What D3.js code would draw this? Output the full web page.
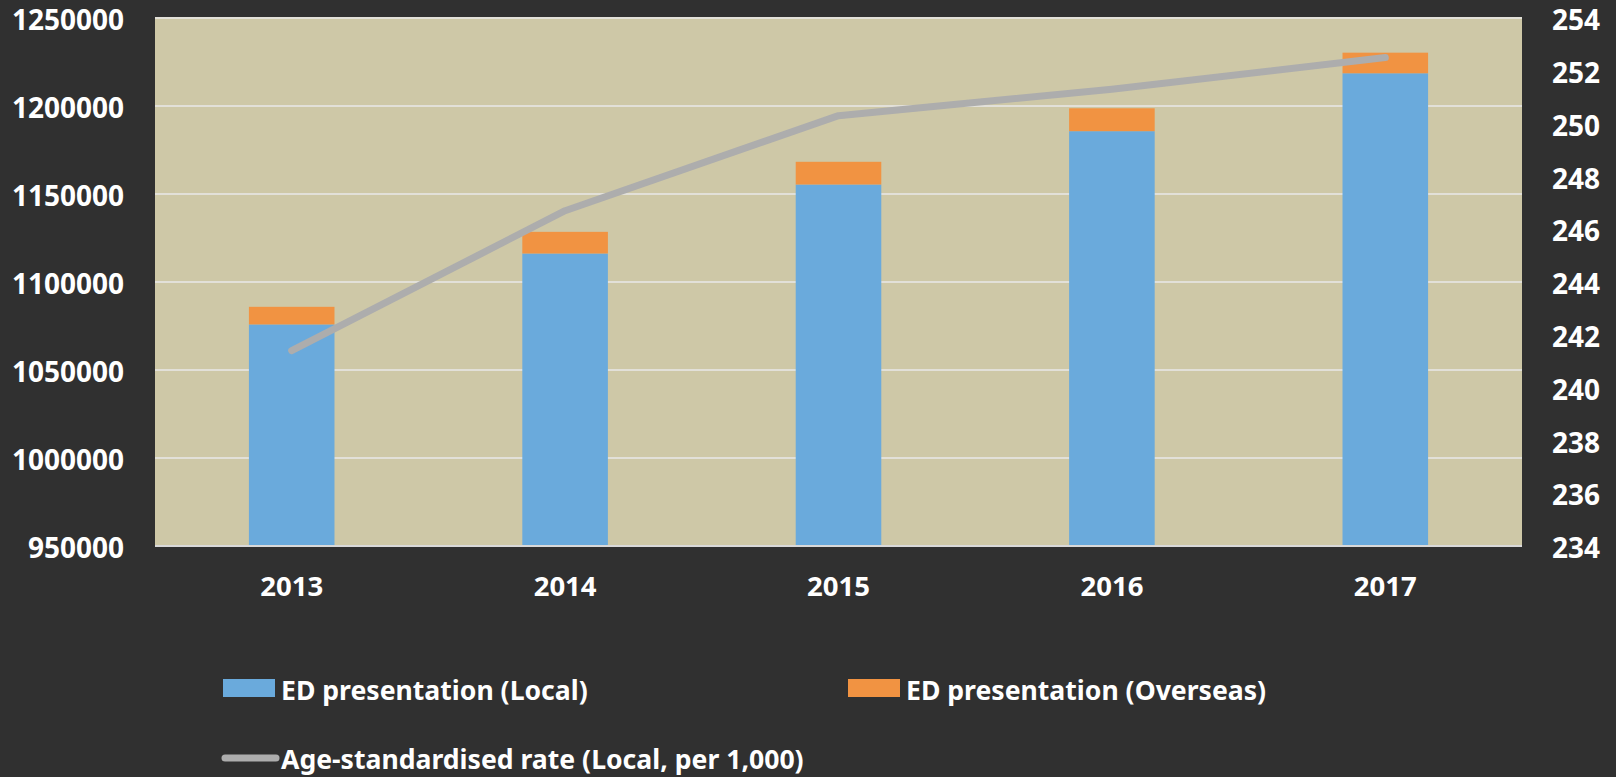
<!DOCTYPE html>
<html>
<head>
<meta charset="utf-8">
<script src="https://cdn.jsdelivr.net/npm/d3@7"></script>
<style>
  html, body { margin: 0; padding: 0; background: #303030; }
  svg { display: block; }
  text { font-family: "Noto Sans", sans-serif; font-weight: bold; fill: #ffffff; }
</style>
</head>
<body>
<div id="chart"></div>
<script>
// data
const years = ["2013", "2014", "2015", "2016", "2017"]
const localVisits = [1075900, 1116200, 1155400, 1185700, 1218600]
const overseasVisits = [10000, 12300, 12900, 13000, 11700]
const rateLocal = [241.4, 246.7, 250.3, 251.3, 252.5]
const leftTicks = [950000, 1000000, 1050000, 1100000, 1150000, 1200000, 1250000]
const rightTicks = [234, 236, 238, 240, 242, 244, 246, 248, 250, 252, 254]

function drawChart() {
    const data = years.map((y, i) => ({
        year: y,
        local: localVisits[i],
        overseas: overseasVisits[i],
        rate: rateLocal[i],
    }))

    const dimensions = {
        width: 1616,
        height: 777,
        margin: { top: 18, right: 94, bottom: 231, left: 155 },
    }
    dimensions.boundedWidth = dimensions.width - dimensions.margin.left - dimensions.margin.right
    dimensions.boundedHeight = dimensions.height - dimensions.margin.top - dimensions.margin.bottom

    const wrapper = d3.select("#chart")
        .append("svg")
        .attr("width", dimensions.width)
        .attr("height", dimensions.height)

    const bounds = wrapper.append("g")
        .attr("transform", `translate(${dimensions.margin.left},${dimensions.margin.top})`)

    // scales
    const xScale = d3.scaleBand()
        .domain(years)
        .range([0, dimensions.boundedWidth])
        .paddingInner(0.687)
        .paddingOuter(0.687 / 2)

    const yScale = d3.scaleLinear()
        .domain([950000, 1250000])
        .range([dimensions.boundedHeight, 0])

    const rateScale = d3.scaleLinear()
        .domain([234, 254])
        .range([dimensions.boundedHeight, 0])

    // plot background
    bounds.append("rect")
        .attr("width", dimensions.boundedWidth)
        .attr("height", dimensions.boundedHeight)
        .attr("fill", "#cec8a7")

    // gridlines
    bounds.append("g")
        .selectAll("line")
        .data(leftTicks.slice(1))
        .join("line")
        .attr("x1", 0)
        .attr("x2", dimensions.boundedWidth)
        .attr("y1", d => yScale(d))
        .attr("y2", d => yScale(d))
        .attr("stroke", "#e2e0d8")
        .attr("stroke-width", 2)

    // stacked bars
    const stack = d3.stack().keys(["local", "overseas"])
    const series = stack(data)
    const colors = { local: "#6aaadc", overseas: "#f19342" }

    bounds.append("g")
        .selectAll("g")
        .data(series)
        .join("g")
        .attr("fill", d => colors[d.key])
        .selectAll("rect")
        .data(d => d)
        .join("rect")
        .attr("x", d => xScale(d.data.year))
        .attr("width", xScale.bandwidth())
        .attr("y", d => yScale(d[1]))
        .attr("height", d => yScale(Math.max(d[0], 950000)) - yScale(d[1]))

    // x axis line
    bounds.append("line")
        .attr("x1", 0)
        .attr("x2", dimensions.boundedWidth)
        .attr("y1", dimensions.boundedHeight)
        .attr("y2", dimensions.boundedHeight)
        .attr("stroke", "#d9d9d9")
        .attr("stroke-width", 2)

    // rate line
    const lineGenerator = d3.line()
        .x(d => xScale(d.year) + xScale.bandwidth() / 2)
        .y(d => rateScale(d.rate))

    bounds.append("path")
        .datum(data)
        .attr("d", lineGenerator)
        .attr("fill", "none")
        .attr("stroke", "#adadad")
        .attr("stroke-width", 7)
        .attr("stroke-linecap", "round")
        .attr("stroke-linejoin", "round")

    // axes
    const yAxisGenerator = d3.axisLeft(yScale)
        .tickValues(leftTicks)
        .tickSize(0)
        .tickPadding(31)
        .tickFormat(d3.format("d"))

    const yAxis = bounds.append("g").call(yAxisGenerator)
    yAxis.select(".domain").remove()
    yAxis.selectAll("text")
        .attr("fill", "#ffffff")
        .style("font-size", "28px")
        .attr("dy", "0.42em")

    const rateAxisGenerator = d3.axisRight(rateScale)
        .tickValues(rightTicks)
        .tickSize(0)
        .tickPadding(30)

    const rateAxis = bounds.append("g")
        .attr("transform", `translate(${dimensions.boundedWidth},0)`)
        .call(rateAxisGenerator)
    rateAxis.select(".domain").remove()
    rateAxis.selectAll("text")
        .attr("fill", "#ffffff")
        .style("font-size", "28px")
        .attr("dy", "0.42em")

    const xAxisGenerator = d3.axisBottom(xScale)
        .tickSize(0)
        .tickPadding(30)

    const xAxis = bounds.append("g")
        .attr("transform", `translate(0,${dimensions.boundedHeight})`)
        .call(xAxisGenerator)
    xAxis.select(".domain").remove()
    xAxis.selectAll("text")
        .attr("fill", "#ffffff")
        .style("font-size", "27.5px")

    // legend
    const legend = wrapper.append("g")

    const legendItems = [
        { label: "ED presentation (Local)", type: "rect", color: colors.local, x: 223, y: 679 },
        { label: "ED presentation (Overseas)", type: "rect", color: colors.overseas, x: 848, y: 679 },
        { label: "Age-standardised rate (Local, per 1,000)", type: "line", color: "#adadad", x: 223, y: 748 },
    ]

    const item = legend.selectAll("g")
        .data(legendItems)
        .join("g")
        .attr("transform", d => `translate(${d.x},${d.y})`)

    item.filter(d => d.type === "rect")
        .append("rect")
        .attr("width", 52)
        .attr("height", 18)
        .attr("fill", d => d.color)

    item.filter(d => d.type === "line")
        .append("line")
        .attr("x1", 2)
        .attr("x2", 53)
        .attr("y1", 10)
        .attr("y2", 10)
        .attr("stroke", d => d.color)
        .attr("stroke-width", 7)
        .attr("stroke-linecap", "round")

    item.append("text")
        .attr("x", 58)
        .attr("y", 21)
        .style("font-size", "26.6px")
        .text(d => d.label)
}

drawChart()
</script>
</body>
</html>
